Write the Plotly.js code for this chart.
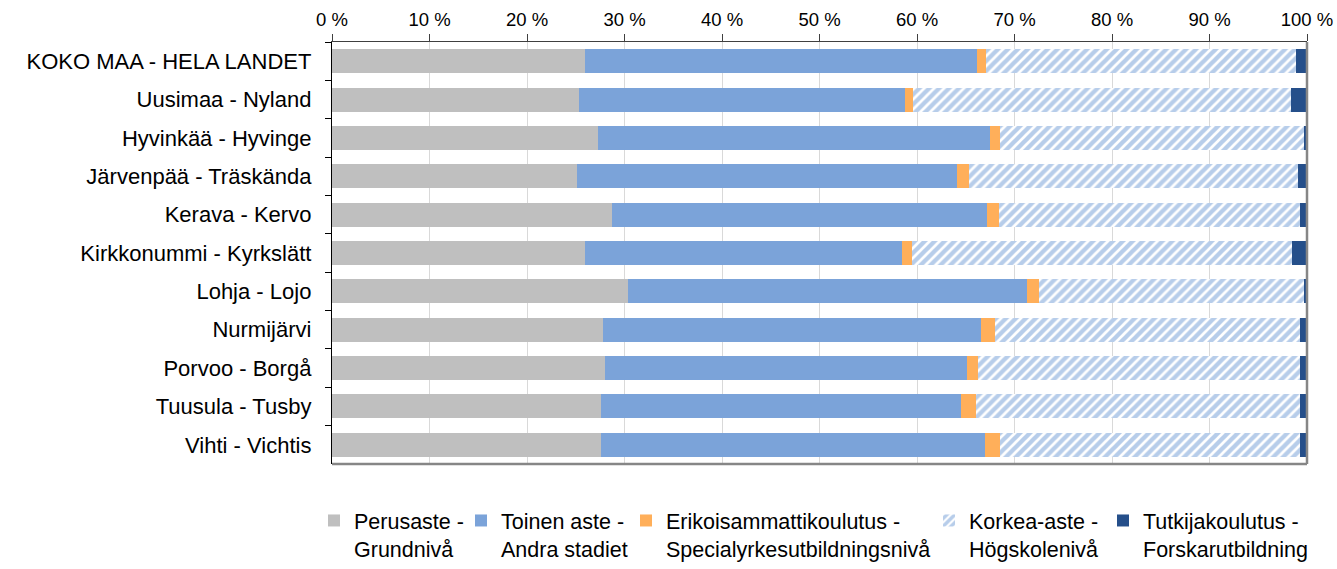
<!DOCTYPE html>
<html>
<head>
<meta charset="utf-8">
<script src="https://cdn.plot.ly/plotly-3.0.1.min.js"></script>
<style>html,body{margin:0;padding:0;background:#fff;}#chart{width:1337px;height:569px;}</style>
</head>
<body>
<div id="chart"></div>
<script>
// Categories (top to bottom)
const categories = [
  'KOKO MAA - HELA LANDET',
  'Uusimaa - Nyland',
  'Hyvinkää - Hyvinge',
  'Järvenpää - Träskända',
  'Kerava - Kervo',
  'Kirkkonummi - Kyrkslätt',
  'Lohja - Lojo',
  'Nurmijärvi',
  'Porvoo - Borgå',
  'Tuusula - Tusby',
  'Vihti - Vichtis'
];

// Shares in percent
const perusaste          = [25.9, 25.3, 27.3, 25.1, 28.7, 25.9, 30.4, 27.8, 28.0, 27.6, 27.6];
const toinenAste         = [40.3, 33.5, 40.2, 39.0, 38.5, 32.6, 40.9, 38.8, 37.1, 36.9, 39.4];
const erikoisammatti     = [ 0.9,  0.8,  1.0,  1.2,  1.2,  1.0,  1.2,  1.4,  1.2,  1.6,  1.5];
const korkeaAste         = [31.8, 38.8, 31.2, 33.8, 30.9, 39.0, 27.2, 31.3, 33.0, 33.2, 30.8];
const tutkijakoulutus    = [ 1.1,  1.6,  0.3,  0.9,  0.7,  1.5,  0.3,  0.7,  0.7,  0.7,  0.7];

const seriesNames = [
  'Perusaste -<br>Grundnivå',
  'Toinen aste -<br>Andra stadiet',
  'Erikoisammattikoulutus -<br>Specialyrkesutbildningsnivå',
  'Korkea-aste -<br>Högskolenivå',
  'Tutkijakoulutus -<br>Forskarutbildning'
];

const xTickVals = [0, 10, 20, 30, 40, 50, 60, 70, 80, 90, 100];
const xTickLabels = ['0 %', '10 %', '20 %', '30 %', '40 %', '50 %', '60 %', '70 %', '80 %', '90 %', '100 %'];

const FONT = 'Arial, "Liberation Sans", sans-serif';
const seriesValues = [perusaste, toinenAste, erikoisammatti, korkeaAste, tutkijakoulutus];
const colors = ['#BFBFBF', '#7BA3D9', '#FFAF5A', '#7BA3D9', '#254F8A'];
const legendIds = ['legend', 'legend2', 'legend3', 'legend4', 'legend5'];
const legendSymbolX = [334, 481, 646, 949, 1123];

const traces = seriesValues.map((vals, i) => {
  const marker = {color: colors[i], line: {width: 0}};
  if (i === 3) {
    marker.color = '#FFFFFF';
    marker.pattern = {shape: '/', fgcolor: '#6F9BD6', bgcolor: '#FFFFFF', size: 7, solidity: 0.62, fillmode: 'overlay'};
  }
  return {
    type: 'bar',
    orientation: 'h',
    name: seriesNames[i],
    y: categories,
    x: vals,
    marker: marker,
    legend: legendIds[i],
    hoverinfo: 'name+x'
  };
});

const layout = {
  width: 1337,
  height: 569,
  margin: {l: 332, r: 30, t: 42, b: 105, pad: 0},
  paper_bgcolor: '#FFFFFF',
  plot_bgcolor: '#FFFFFF',
  barmode: 'stack',
  bargap: 0.375,
  font: {family: FONT, color: '#000000'},
  showlegend: true,
  xaxis: {
    side: 'top',
    range: [0, 100],
    tickmode: 'array',
    tickvals: xTickVals,
    ticktext: xTickLabels,
    tickfont: {size: 18.5, family: FONT, color: '#000'},
    showgrid: true,
    gridcolor: '#D9D9D9',
    gridwidth: 1,
    ticks: 'outside',
    ticklen: 7,
    tickcolor: '#404040',
    tickwidth: 1,
    showline: true,
    linecolor: '#404040',
    linewidth: 1.5,
    zeroline: false,
    fixedrange: true
  },
  yaxis: {
    type: 'category',
    autorange: 'reversed',
    tickfont: {size: 22, family: FONT, color: '#000'},
    showgrid: false,
    ticks: 'outside',
    tickson: 'boundaries',
    ticklen: 6,
    tickcolor: '#000',
    ticklabelstandoff: 15,
    showline: true,
    linecolor: '#000',
    linewidth: 1.2,
    zeroline: false,
    fixedrange: true
  },
  shapes: [
    {type: 'line', xref: 'paper', yref: 'paper', x0: 0, x1: 1, y0: 0, y1: 0, line: {color: '#868686', width: 2.5}},
    {type: 'line', xref: 'paper', yref: 'paper', x0: 1, x1: 1, y0: 0, y1: 1, line: {color: '#868686', width: 2.5}}
  ]
};

legendIds.forEach((id, i) => {
  layout[id] = {
    xref: 'container', yref: 'container',
    x: (legendSymbolX[i] - 20) / 1337,
    xanchor: 'left',
    y: 1 - 500 / 569,
    yanchor: 'top',
    orientation: 'h',
    valign: 'top',
    bgcolor: 'rgba(0,0,0,0)',
    borderwidth: 0,
    font: {size: 21.5, family: FONT, color: '#000'},
    itemclick: false,
    itemdoubleclick: false
  };
});

Plotly.newPlot('chart', traces, layout, {displayModeBar: false, staticPlot: true});
</script>
</body>
</html>
